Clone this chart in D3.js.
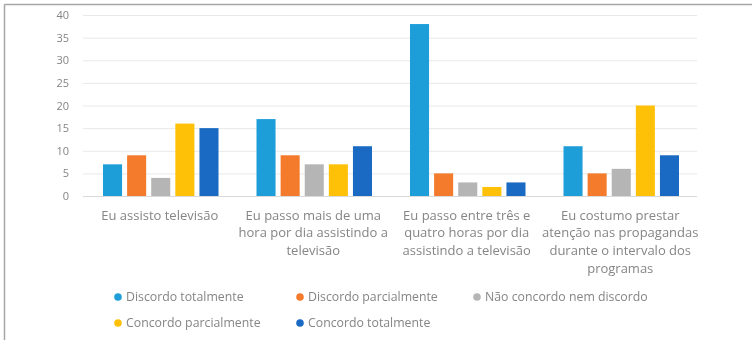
<!DOCTYPE html>
<html>
<head>
<meta charset="utf-8">
<script src="https://cdn.jsdelivr.net/npm/d3@7"></script>
<style>
  html, body { margin: 0; padding: 0; background: #fff; }
  svg { display: block; filter: blur(0.5px); }
</style>
</head>
<body>
<svg id="chart" width="752" height="340"></svg>
<script>
// Survey statements (x categories), each wrapped into display lines
const categories = [
  "Eu assisto televisão",
  "Eu passo mais de uma hora por dia assistindo a televisão",
  "Eu passo entre três e quatro horas por dia assistindo a televisão",
  "Eu costumo prestar atenção nas propagandas durante o intervalo dos programas"
];
const categoryLines = [
  ["Eu assisto televisão"],
  ["Eu passo mais de uma", "hora por dia assistindo a", "televisão"],
  ["Eu passo entre três e", "quatro horas por dia", "assistindo a televisão"],
  ["Eu costumo prestar", "atenção nas propagandas", "durante o intervalo dos", "programas"]
];

// Response options (series)
const seriesNames = [
  "Discordo totalmente",
  "Discordo parcialmente",
  "Não concordo nem discordo",
  "Concordo parcialmente",
  "Concordo totalmente"
];
const seriesColors = ["#1e9ed9", "#f47b2c", "#b5b5b5", "#ffc107", "#1a6ac4"];

// Counts per response, one entry per statement
const discordoTotalmente   = [7, 17, 38, 11];
const discordoParcialmente = [9, 9, 5, 5];
const naoConcordoNem       = [4, 7, 3, 6];
const concordoParcialmente = [16, 7, 2, 20];
const concordoTotalmente   = [15, 11, 3, 9];

const yTicks = [0, 5, 10, 15, 20, 25, 30, 35, 40];

const seriesValues = [discordoTotalmente, discordoParcialmente, naoConcordoNem,
                      concordoParcialmente, concordoTotalmente];

const svg = d3.select("#chart");
const font = "'Open Sans', 'Liberation Sans', sans-serif";
const textColor = "#858585";

// Frame lines (top and left edges)
svg.append("line").attr("x1", 4.5).attr("x2", 752).attr("y1", 4.5).attr("y2", 4.5)
  .attr("stroke", "#a6a6a6").attr("stroke-width", 1.5);
svg.append("line").attr("x1", 4.5).attr("x2", 4.5).attr("y1", 4.5).attr("y2", 340)
  .attr("stroke", "#a6a6a6").attr("stroke-width", 1.5);

const plot = { left: 83, right: 697, top: 15, bottom: 196 };

const x0 = d3.scaleBand().domain(categories).range([plot.left, plot.right]).padding(0);
const bw = x0.bandwidth();
const x1 = d3.scaleBand().domain(seriesNames).range([20, bw - 18]).paddingInner(0.21).paddingOuter(0);
const y = d3.scaleLinear().domain([0, 40]).range([plot.bottom, plot.top]);

// Gridlines and value ticks
const yAxis = d3.axisLeft(y).tickValues(yTicks).tickSize(-(plot.right - plot.left)).tickPadding(14);
const gy = svg.append("g").attr("transform", `translate(${plot.left},0)`).call(yAxis);
gy.select(".domain").remove();
gy.selectAll(".tick line").attr("stroke", "#e8e8e8").attr("stroke-width", 1);
gy.selectAll(".tick text").attr("fill", textColor).attr("font-family", font).attr("font-size", 11);

// Baseline
svg.append("line").attr("x1", plot.left).attr("x2", plot.right)
  .attr("y1", y(0) + 0.5).attr("y2", y(0) + 0.5).attr("stroke", "#d9d9d9");

// Bars
const groups = svg.append("g").selectAll("g").data(categories).join("g")
  .attr("transform", d => `translate(${x0(d)},0)`);
groups.selectAll("rect")
  .data((d, ci) => seriesNames.map((s, si) => ({ s, si, v: seriesValues[si][ci] })))
  .join("rect")
  .attr("x", d => x1(d.s))
  .attr("width", x1.bandwidth())
  .attr("y", d => y(d.v))
  .attr("height", d => y(0) - y(d.v))
  .attr("fill", d => seriesColors[d.si]);

// Category labels
categories.forEach((c, ci) => {
  const cx = x0(c) + bw / 2;
  const t = svg.append("text")
    .attr("x", cx).attr("y", 219.5)
    .attr("text-anchor", "middle")
    .attr("font-family", font).attr("font-size", 13).attr("fill", textColor);
  categoryLines[ci].forEach((line, li) => {
    t.append("tspan").attr("x", cx).attr("dy", li === 0 ? 0 : 17.8).text(line);
  });
});

// Legend
const legendPos = [[118, 297], [300, 297], [477, 297], [118, 323], [300, 323]];
const legend = svg.append("g").selectAll("g").data(seriesNames).join("g")
  .attr("transform", (d, i) => `translate(${legendPos[i][0]},${legendPos[i][1]})`);
legend.append("circle").attr("r", 3.8).attr("fill", (d, i) => seriesColors[i]);
legend.append("text").attr("x", 8).attr("y", 4.2)
  .attr("font-family", font).attr("font-size", 12.3).attr("fill", textColor)
  .text(d => d);
</script>
</body>
</html>
